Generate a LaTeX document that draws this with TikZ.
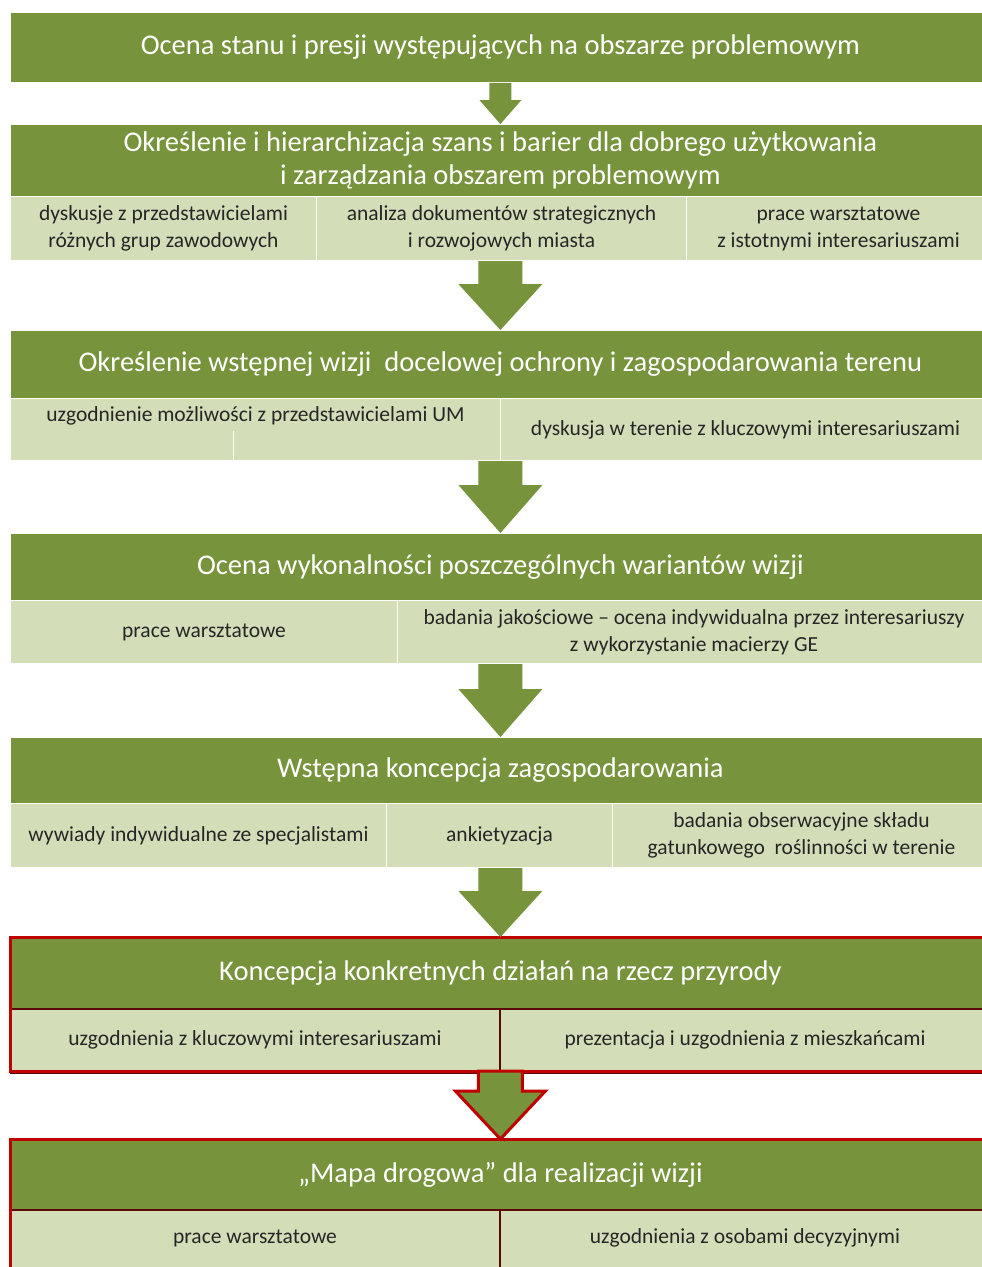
\documentclass[tikz,border=0pt]{standalone}
\usepackage{fontspec}
\setmainfont{Carlito}
\usetikzlibrary{calc}
\definecolor{hdrgreen}{HTML}{77933C}
\definecolor{subgreen}{HTML}{D3DEB8}
\definecolor{subtext}{HTML}{262626}
\definecolor{redb}{HTML}{C00000}
\definecolor{darkred}{HTML}{5A0808}
\newcommand{\blkarrow}[6]{%
  \path[#1] ($(#2)+(-#4,0)$) -- ($(#3)+(-#4,-#6)$) -- ($(#3)+(-#5,-#6)$) -- (#3)
    -- ($(#3)+(#5,-#6)$) -- ($(#3)+(#4,-#6)$) -- ($(#2)+(#4,0)$) -- cycle;}
\begin{document}
\begin{tikzpicture}[x=1pt,y=-1pt,
  hdr/.style={fill=hdrgreen, draw=white, line width=0.8pt, text=white,
    font=\fontsize{28.5}{33}\selectfont, align=center, inner sep=0pt,
    minimum width=980pt, anchor=north west},
  subcell/.style={fill=subgreen, draw=white, line width=1pt, text=subtext,
    font=\fontsize{21.5}{27}\selectfont, align=center, inner sep=0pt, anchor=north west},
  subtxt/.style={text=subtext, font=\fontsize{21.5}{27}\selectfont, align=center, inner sep=0pt},
  garrow/.style={fill=hdrgreen},
  rarrow/.style={fill=hdrgreen, draw=redb, line width=3pt, line join=miter},
  redframe/.style={draw=redb, line width=3pt},
  darkline/.style={draw=darkred, line width=2pt}
]
\useasboundingbox (0,0) rectangle (982,1267);
\clip (0,0) rectangle (982,1267);
\fill[white] (0,0) rectangle (982,1267);

% Block 1
\node[hdr, minimum height=70pt] (h1) at (10,12) {Ocena stanu i presji występujących na obszarze problemowym};

% Block 2
\node[hdr, minimum height=72pt] (h2) at (10,124) {Określenie i hierarchizacja szans i barier dla dobrego użytkowania\\i zarządzania obszarem problemowym};
\node[subcell, minimum width=306pt, minimum height=64pt] (s2a) at (10,196) {dyskusje z przedstawicielami\\różnych grup zawodowych};
\node[subcell, minimum width=370pt, minimum height=64pt] (s2b) at (316,196) {analiza dokumentów strategicznych\\i rozwojowych miasta};
\node[subcell, minimum width=304pt, minimum height=64pt] (s2c) at (686,196) {prace warsztatowe\\z istotnymi interesariuszami};

% Block 3
\node[hdr, minimum height=68pt] (h3) at (10,330) {Określenie wstępnej wizji\ \ docelowej ochrony i zagospodarowania terenu};
\node[subcell, minimum width=490pt, minimum height=62pt] (s3a) at (10,398) {};
\node[subtxt, anchor=north] (t3a) at ($(s3a.north)+(0,8)$) {uzgodnienie możliwości z przedstawicielami UM};
\draw[white, line width=1pt] ($(s3a.south west)+(223,0)$) coordinate (d3b) -- ($(s3a.south west)+(223,-30)$) coordinate (d3t);
\node[subcell, minimum width=490pt, minimum height=62pt] (s3b) at (500,398) {dyskusja w terenie z kluczowymi interesariuszami};

% Block 4
\node[hdr, minimum height=67pt] (h4) at (10,533) {Ocena wykonalności poszczególnych wariantów wizji};
\node[subcell, minimum width=387pt, minimum height=63pt] (s4a) at (10,600) {prace warsztatowe};
\node[subcell, minimum width=593pt, minimum height=63pt] (s4b) at (397,600) {badania jakościowe – ocena indywidualna przez interesariuszy\\z wykorzystanie macierzy GE};

% Block 5
\node[hdr, minimum height=66pt] (h5) at (10,737) {Wstępna koncepcja zagospodarowania};
\node[subcell, minimum width=376pt, minimum height=64pt] (s5a) at (10,803) {wywiady indywidualne ze specjalistami};
\node[subcell, minimum width=226pt, minimum height=64pt] (s5b) at (386,803) {ankietyzacja};
\node[subcell, minimum width=378pt, minimum height=64pt] (s5c) at (612,803) {badania obserwacyjne składu\\gatunkowego\ \ roślinności w terenie};

% Block 6
\node[hdr, draw=none, minimum height=71pt] (h6) at (10,937) {Koncepcja konkretnych działań na rzecz przyrody};
\node[subcell, draw=none, minimum width=489pt, minimum height=62pt] (s6a) at (10,1008) {uzgodnienia z kluczowymi interesariuszami};
\node[subcell, draw=none, minimum width=491pt, minimum height=62pt] (s6b) at (499,1008) {prezentacja i uzgodnienia z mieszkańcami};
\draw[darkline, line width=2.5pt] (h6.south west) -- (h6.south east);
\draw[darkline] (s6a.north east) -- (s6a.south east);
\draw[redframe] (h6.north west) rectangle (s6b.south east);
\draw[darkred, line width=1pt] ($(s6a.south west)+(0,2)$) -- ($(s6b.south east)+(0,2)$);

% Block 7
\node[hdr, draw=none, minimum height=70pt] (h7) at (10,1139) {„Mapa drogowa” dla realizacji wizji};
\node[subcell, draw=none, minimum width=489pt, minimum height=70pt] (s7a) at (10,1209) {};
\node[subtxt] (t7a) at ($(s7a.north)+(0,29)$) {prace warsztatowe};
\node[subcell, draw=none, minimum width=491pt, minimum height=70pt] (s7b) at (499,1209) {};
\node[subtxt] (t7b) at ($(s7b.north)+(0,29)$) {uzgodnienia z osobami decyzyjnymi};
\draw[darkline, line width=2.5pt] (h7.south west) -- (h7.south east);
\draw[darkline] (s7a.north east) -- (s7a.south east);
\draw[redframe] (h7.north west) rectangle (s7b.south east);

% Arrows
\coordinate (a1top) at (h2.north |- h1.south);
\coordinate (a2top) at (h3.north |- s2b.south);
\coordinate (a3top) at (h4.north |- s3b.south);
\coordinate (a4top) at (h5.north |- s4b.south);
\coordinate (a5top) at (h6.north |- s5b.south);
\coordinate (a6top) at (h7.north |- s6b.south);
\blkarrow{garrow}{a1top}{h2.north}{11}{21}{24}
\blkarrow{garrow}{a2top}{h3.north}{22}{42}{46}
\blkarrow{garrow}{a3top}{h4.north}{22}{42}{48}
\blkarrow{garrow}{a4top}{h5.north}{22}{42}{48}
\blkarrow{garrow}{a5top}{h6.north}{22}{42}{46}
\blkarrow{rarrow}{a6top}{h7.north}{22}{45}{48}
\end{tikzpicture}
\end{document}
